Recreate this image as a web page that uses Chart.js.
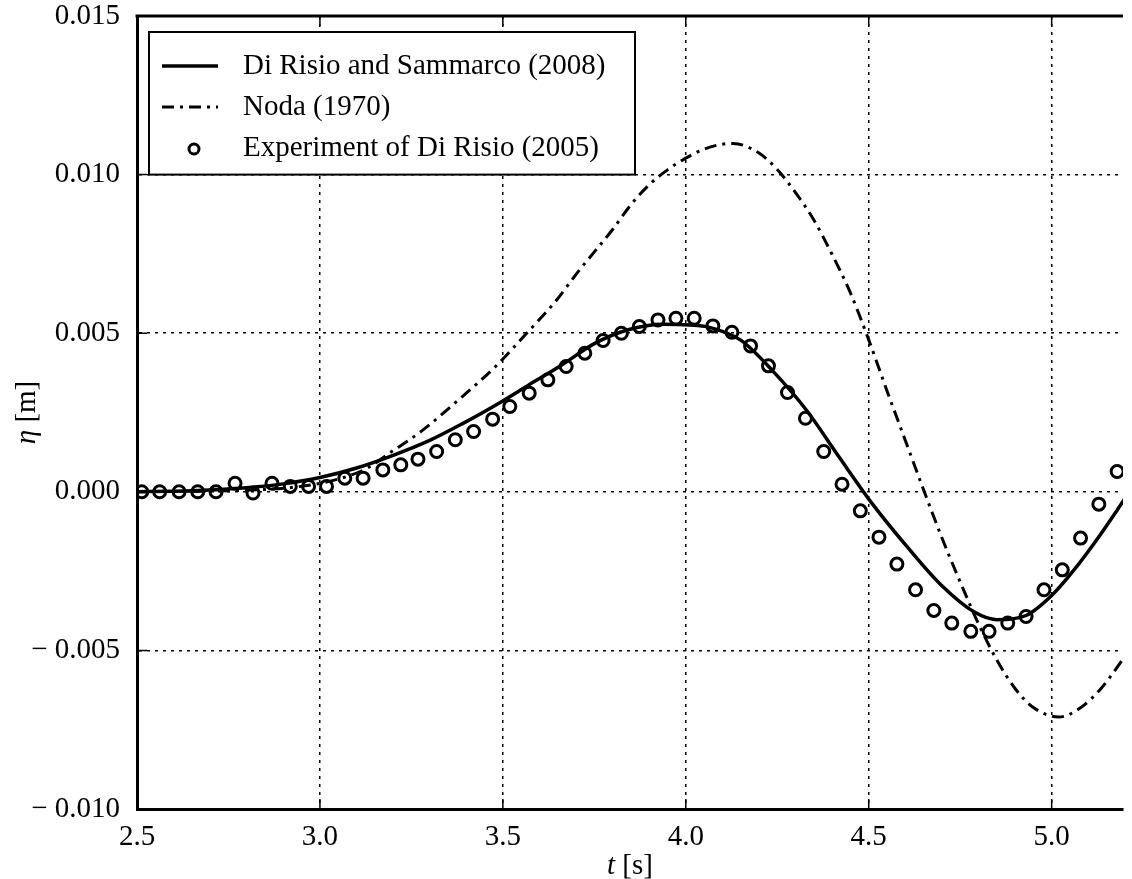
<!DOCTYPE html>
<html lang="en">
<head>
  <meta charset="UTF-8">
  <title>Free surface elevation</title>
  <script src="https://cdn.jsdelivr.net/npm/chart.js"></script>
  <style>
    html, body { margin: 0; padding: 0; background: #fff; overflow: hidden; }
    #wrap { width: 1132px; height: 879px; }
  </style>
</head>
<body>
  <div id="wrap"><canvas id="etaChart" width="1132" height="879"></canvas></div>

  <script>
    // series labels
    const seriesLabels = ['Di Risio and Sammarco (2008)', 'Noda (1970)', 'Experiment of Di Risio (2005)'];

    // Di Risio and Sammarco (2008) - solid line
    const solidT = [2.5, 2.6, 2.7, 2.8, 2.9, 3.0, 3.1, 3.2, 3.3, 3.39, 3.48, 3.57, 3.66, 3.75, 3.84, 3.94, 4.01, 4.06,
      4.15, 4.24, 4.33, 4.42, 4.51, 4.61, 4.70, 4.79, 4.85, 4.93, 5.0, 5.06, 5.135, 5.2];
    const solidEta = [0.0, 0.00002, 0.00006, 0.00013, 0.00025, 0.00045, 0.00075, 0.00115, 0.00162, 0.00215, 0.00273,
      0.00336, 0.00399, 0.00467, 0.0051, 0.00528, 0.00526, 0.0052, 0.00478, 0.00378, 0.00257, 0.00108, -0.00038,
      -0.0018, -0.00296, -0.0038, -0.00403, -0.0039, -0.00327, -0.00248, -0.00132, -0.00022];

    // Noda (1970) - dash-dot line
    const nodaT = [2.5, 2.8, 2.94, 3.05, 3.13, 3.19, 3.275, 3.39, 3.48, 3.57, 3.64, 3.71, 3.80, 3.85, 3.90, 3.95, 4.0,
      4.05, 4.1, 4.13, 4.2, 4.25, 4.30, 4.35, 4.40, 4.45, 4.50, 4.55, 4.60, 4.65, 4.70, 4.75, 4.80, 4.85, 4.90, 4.95,
      5.02, 5.08, 5.135, 5.2];
    const nodaEta = [0.0, 0.00005, 0.00016, 0.0004, 0.00075, 0.00122, 0.00189, 0.00301, 0.00395, 0.00506, 0.00595,
      0.007, 0.00827, 0.00905, 0.00968, 0.01015, 0.01052, 0.0108, 0.01096, 0.01098, 0.01068, 0.01016, 0.00943,
      0.00857, 0.00748, 0.00627, 0.00479, 0.00318, 0.00162, 0.00006, -0.00145, -0.00284, -0.00416, -0.0053, -0.0062,
      -0.0068, -0.0071, -0.0068, -0.0062, -0.0052];

    // Experiment of Di Risio (2005) - circles
    const expT = [2.513, 2.562, 2.615, 2.666, 2.716, 2.768, 2.817, 2.869, 2.919, 2.969, 3.018, 3.068, 3.118, 3.172,
      3.221, 3.268, 3.319, 3.37, 3.42, 3.472, 3.519, 3.572, 3.623, 3.673, 3.724, 3.774, 3.824, 3.873, 3.924, 3.973,
      4.023, 4.074, 4.126, 4.177, 4.226, 4.278, 4.327, 4.377, 4.427, 4.477, 4.528, 4.577, 4.628, 4.678, 4.727, 4.779,
      4.829, 4.88, 4.93, 4.979, 5.029, 5.079, 5.129, 5.179];
    const expEta = [0.0, 0.0, 0.0, 0.0, 0.0, 0.00027, -0.00004, 0.00027, 0.00017, 0.00017, 0.00017, 0.00043, 0.00043,
      0.00069, 0.00085, 0.00103, 0.00127, 0.00164, 0.0019, 0.00229, 0.00269, 0.00311, 0.00353, 0.00395, 0.00437,
      0.00477, 0.005, 0.00521, 0.00542, 0.00547, 0.00547, 0.00523, 0.00503, 0.0046, 0.00397, 0.00313, 0.00232,
      0.00127, 0.00024, -0.0006, -0.00143, -0.00228, -0.00309, -0.00374, -0.00414, -0.0044, -0.0044, -0.00414,
      -0.00393, -0.00309, -0.00246, -0.00146, -0.00039, 0.00064];

    // tick labels
    const xTickLabels = ['2.5', '3.0', '3.5', '4.0', '4.5', '5.0'];
    const yTickLabels = ['\u2212 0.010', '\u2212 0.005', '0.000', '0.005', '0.010', '0.015'];

    const serif = "'Liberation Serif', 'Times New Roman', serif";
    const fontSize = 29;
    const zip = (xs, ys) => xs.map((v, i) => ({ x: v, y: ys[i] }));

    // draws the top spine, inward ticks, axis titles and the boxed legend
    const framePlugin = {
      id: 'frame',
      afterDatasetsDraw(chart) {
        const { ctx, chartArea: a, scales: { x, y } } = chart;
        ctx.save();
        ctx.strokeStyle = '#000';
        ctx.lineWidth = 3;
        ctx.beginPath();
        ctx.moveTo(a.left - 1.5, a.top);
        ctx.lineTo(a.right, a.top);
        ctx.stroke();

        ctx.lineWidth = 1.5;
        ctx.beginPath();
        x.ticks.forEach(t => {
          const px = x.getPixelForValue(t.value);
          ctx.moveTo(px, a.bottom); ctx.lineTo(px, a.bottom - 10);
          ctx.moveTo(px, a.top); ctx.lineTo(px, a.top + 10);
        });
        y.ticks.forEach(t => {
          const py = y.getPixelForValue(t.value);
          ctx.moveTo(a.left, py); ctx.lineTo(a.left + 10, py);
        });
        ctx.stroke();

        // axis titles: italic symbol + upright unit
        ctx.fillStyle = '#000';
        ctx.textBaseline = 'middle';
        const title = (sym, unit) => {
          ctx.font = `italic ${fontSize}px ${serif}`;
          const w1 = ctx.measureText(sym).width;
          ctx.font = `${fontSize}px ${serif}`;
          const w2 = ctx.measureText(unit).width;
          const start = -(w1 + w2) / 2;
          ctx.font = `italic ${fontSize}px ${serif}`;
          ctx.textAlign = 'left';
          ctx.fillText(sym, start, 0);
          ctx.font = `${fontSize}px ${serif}`;
          ctx.fillText(unit, start + w1, 0);
        };
        ctx.save();
        ctx.translate((a.left + a.right) / 2, a.bottom + 57);
        title('t', ' [s]');
        ctx.restore();
        ctx.save();
        ctx.translate(27, (a.top + a.bottom) / 2);
        ctx.rotate(-Math.PI / 2);
        title('\u03b7', ' [m]');
        ctx.restore();

        // legend
        const bx = a.left + 12, by = a.top + 16, bw = 486, bh = y.getPixelForValue(0.01) - by;
        ctx.fillStyle = '#fff';
        ctx.fillRect(bx, by, bw, bh);
        ctx.lineWidth = 2;
        ctx.strokeRect(bx, by, bw, bh);
        chart.data.datasets.forEach((ds, i) => {
          const ry = by + 34 + i * 41;
          ctx.setLineDash([]);
          if (ds.showLine === false) {
            ctx.lineWidth = 3;
            ctx.beginPath();
            ctx.arc(bx + 45, ry + 1, 5, 0, Math.PI * 2);
            ctx.stroke();
          } else {
            ctx.lineWidth = ds.borderWidth;
            ctx.setLineDash(ds.borderDash || []);
            ctx.beginPath();
            ctx.moveTo(bx + 13, ry);
            ctx.lineTo(bx + 69, ry);
            ctx.stroke();
          }
          ctx.setLineDash([]);
          ctx.fillStyle = '#000';
          ctx.font = `${fontSize}px ${serif}`;
          ctx.textAlign = 'left';
          ctx.fillText(ds.label, bx + 94, ry);
        });
        ctx.restore();
      }
    };

    const gridStyle = { color: '#000', lineWidth: 1.5, drawTicks: false };
    const borderStyle = { color: '#000', width: 3, dash: [3, 5] };

    new Chart(document.getElementById('etaChart'), {
      type: 'line',
      data: {
        datasets: [
          {
            label: seriesLabels[0],
            data: zip(solidT, solidEta),
            borderColor: '#000',
            borderWidth: 3.5,
            pointRadius: 0,
            cubicInterpolationMode: 'monotone',
            fill: false
          },
          {
            label: seriesLabels[1],
            data: zip(nodaT, nodaEta),
            borderColor: '#000',
            borderWidth: 3,
            borderDash: [12, 6, 3, 6],
            pointRadius: 0,
            cubicInterpolationMode: 'monotone',
            fill: false
          },
          {
            label: seriesLabels[2],
            data: zip(expT, expEta),
            showLine: false,
            borderColor: '#000',
            backgroundColor: 'rgba(0,0,0,0)',
            pointStyle: 'circle',
            pointRadius: 6,
            pointBorderWidth: 3
          }
        ]
      },
      options: {
        responsive: false,
        devicePixelRatio: 1,
        animation: false,
        events: [],
        layout: { padding: 0 },
        plugins: { legend: { display: false }, tooltip: { enabled: false } },
        scales: {
          x: {
            type: 'linear',
            min: 2.5,
            max: 5.195,
            grid: gridStyle,
            border: borderStyle,
            ticks: {
              stepSize: 0.5,
              includeBounds: false,
              padding: 11,
              maxRotation: 0,
              color: '#000',
              font: { family: serif, size: fontSize },
              callback: (v, i) => xTickLabels[i]
            },
            afterFit: s => { s.height = 70; }
          },
          y: {
            min: -0.01,
            max: 0.015,
            grid: gridStyle,
            border: borderStyle,
            ticks: {
              stepSize: 0.005,
              padding: 17,
              color: '#000',
              font: { family: serif, size: fontSize },
              callback: (v, i) => yTickLabels[i]
            },
            afterFit: s => { s.width = 137; s.paddingTop = 16; s.paddingBottom = 0; }
          }
        }
      },
      plugins: [framePlugin]
    });
  </script>
</body>
</html>
